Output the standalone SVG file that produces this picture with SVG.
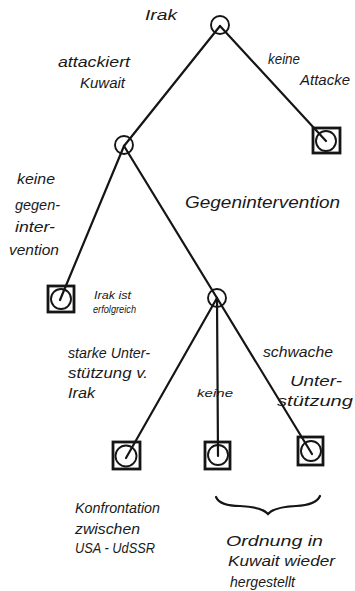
<svg xmlns="http://www.w3.org/2000/svg" width="355" height="591" viewBox="0 0 355 591">
<style>
.e{stroke:#151515;stroke-width:2.2;fill:none;stroke-linecap:round}
.c{stroke:#151515;stroke-width:1.9;fill:none}
.sq{stroke:#151515;stroke-width:2.8;fill:none}
.t{font-family:"Liberation Sans","DejaVu Sans",sans-serif;font-style:italic;font-size:14px;fill:#1a1a1a}
.s{font-size:11px}
.b{font-size:17px}
</style>
<rect width="355" height="591" fill="#fff"/>
<g id="connectors">
<line class="e" x1="220" y1="26" x2="124" y2="146"/>
<line class="e" x1="220" y1="26" x2="326" y2="141"/>
<line class="e" x1="124" y1="146" x2="60" y2="300"/>
<line class="e" x1="124" y1="146" x2="217" y2="298"/>
<line class="e" x1="217" y1="298" x2="126" y2="458"/>
<line class="e" x1="217" y1="298" x2="218" y2="456"/>
<line class="e" x1="217" y1="298" x2="312" y2="454"/>
<path class="e" stroke-width="1.6" d="M216,497 Q220,506 240,506 Q262,507 268,514 Q274,507 296,506 Q316,505 320,496"/>
</g>
<g id="n_root"><circle class="c" cx="220" cy="25" r="9"/><text class="t" x="145" y="20" textLength="32" lengthAdjust="spacingAndGlyphs">Irak</text></g>
<g id="n_kuwait"><circle class="c" cx="124" cy="145" r="9"/></g>
<g id="n_keine_attacke"><rect class="sq" x="313" y="128" width="27" height="25"/><circle class="c" cx="326" cy="141" r="10"/></g>
<g id="n_irak_erfolg"><rect class="sq" x="48" y="286" width="26" height="26"/><circle class="c" cx="61" cy="299" r="10"/></g>
<g id="n_gegen"><circle class="c" cx="217" cy="298" r="9"/></g>
<g id="n_konfrontation"><rect class="sq" x="113" y="442" width="27" height="27"/><circle class="c" cx="126" cy="456" r="10.5"/></g>
<g id="n_keine"><rect class="sq" x="205" y="442" width="25" height="27"/><circle class="c" cx="218" cy="455" r="10"/></g>
<g id="n_schwach"><rect class="sq" x="298" y="437" width="25" height="28"/><circle class="c" cx="311" cy="451" r="10"/></g>
<g id="labels">
<text class="t" x="58" y="67" textLength="72" lengthAdjust="spacingAndGlyphs">attackiert</text>
<text class="t" x="80" y="88" textLength="45" lengthAdjust="spacingAndGlyphs">Kuwait</text>
<text class="t" x="268" y="64" textLength="32" lengthAdjust="spacingAndGlyphs">keine</text>
<text class="t" x="300" y="85" textLength="50" lengthAdjust="spacingAndGlyphs">Attacke</text>
<text class="t" x="17" y="184" textLength="38" lengthAdjust="spacingAndGlyphs">keine</text>
<text class="t" x="15" y="210" textLength="45" lengthAdjust="spacingAndGlyphs">gegen-</text>
<text class="t" x="15" y="232" textLength="40" lengthAdjust="spacingAndGlyphs">inter-</text>
<text class="t" x="9" y="255" textLength="50" lengthAdjust="spacingAndGlyphs">vention</text>
<text class="t b" x="185" y="208" textLength="155" lengthAdjust="spacingAndGlyphs">Gegenintervention</text>
<text class="t s" x="94" y="299" textLength="37" lengthAdjust="spacingAndGlyphs">Irak ist</text>
<text class="t s" x="93" y="313" textLength="43" lengthAdjust="spacingAndGlyphs">erfolgreich</text>
<text class="t" x="68" y="358" textLength="82" lengthAdjust="spacingAndGlyphs">starke Unter-</text>
<text class="t" x="68" y="378" textLength="80" lengthAdjust="spacingAndGlyphs">stützung v.</text>
<text class="t" x="68" y="398" textLength="27" lengthAdjust="spacingAndGlyphs">Irak</text>
<text class="t s" x="197" y="397" textLength="36" lengthAdjust="spacingAndGlyphs">keine</text>
<text class="t" x="263" y="357" textLength="70" lengthAdjust="spacingAndGlyphs">schwache</text>
<text class="t" x="290" y="386" textLength="52" lengthAdjust="spacingAndGlyphs">Unter-</text>
<text class="t" x="277" y="406" textLength="76" lengthAdjust="spacingAndGlyphs">stützung</text>
<text class="t" x="75" y="513" textLength="85" lengthAdjust="spacingAndGlyphs">Konfrontation</text>
<text class="t" x="75" y="534" textLength="65" lengthAdjust="spacingAndGlyphs">zwischen</text>
<text class="t" x="75" y="553" textLength="80" lengthAdjust="spacingAndGlyphs">USA - UdSSR</text>
<text class="t" x="226" y="546" textLength="97" lengthAdjust="spacingAndGlyphs">Ordnung in</text>
<text class="t" x="228" y="566" textLength="107" lengthAdjust="spacingAndGlyphs">Kuwait wieder</text>
<text class="t" x="230" y="587" textLength="65" lengthAdjust="spacingAndGlyphs">hergestellt</text>
</g>
</svg>
